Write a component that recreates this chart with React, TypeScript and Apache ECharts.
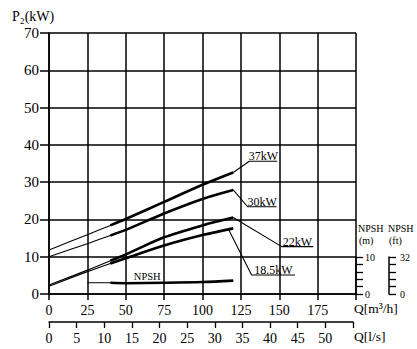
import React, { useEffect, useRef } from "react";
import * as echarts from "echarts";

// Flow rate Q [m³/h] sample positions
const flowQ = [0, 25, 40, 50, 75, 100, 120];
// Shaft power P2 [kW] for each motor size
const p37 = [11.8, 15.9, 18.4, 20.1, 24.7, 29.3, 32.6];
const p30 = [10.0, 13.5, 15.7, 17.2, 21.6, 25.5, 27.9];
const p22 = [2.4, 6.4, 8.9, 10.6, 15.2, 18.4, 20.5];
const p185 = [2.1, 6.0, 8.2, 9.6, 13.0, 15.8, 17.6];
// NPSH [m]
const npshQ = [25, 40, 50, 75, 100, 120];
const npshM = [3.0, 3.0, 2.9, 3.0, 3.2, 3.6];
const thickFromQ = 40;

const powerLabels = ["37kW", "30kW", "22kW", "18.5kW"];
// leader lines (data coords): curve end -> elbow -> end of underline
const leader37 = [[120, 32.6], [130.5, 35.6], [148.7, 35.6]];
const leader30 = [[120, 27.9], [129.4, 23.4], [148.3, 23.4]];
const leader22 = [[120, 20.5], [151.6, 12.7], [172.2, 12.7]];
const leader185 = [[117, 17.3], [132, 5.1], [160.3, 5.1]];
const npshLabelAt = [64, 4.7];

const qTicksMax = 200;
const lsTicksMax = 55;
const pMax = 70;

const FONT = "'Liberation Serif', 'Times New Roman', 'DejaVu Serif', serif";

export default function App() {
  const ref = useRef<HTMLDivElement>(null);
  useEffect(() => {
    document.body.style.margin = "0";
    const chart = echarts.init(ref.current!, null, { renderer: "svg" });
    const curves = [p37, p30, p22, p185];
    const leaders = [leader37, leader30, leader22, leader185];
    const series: any[] = [];
    curves.forEach((vals, i) => {
      const pts = flowQ.map((q, k) => [q, vals[k]]);
      series.push({
        type: "line", name: powerLabels[i] + "-thin", data: pts, smooth: 0.3,
        symbol: "none", lineStyle: { color: "#000", width: 1.1 }, z: 5,
      });
      series.push({
        type: "line", name: powerLabels[i], data: pts.filter((p) => p[0] >= thickFromQ), smooth: 0.3,
        symbol: "none", lineStyle: { color: "#000", width: 2.6 }, z: 6,
      });
    });
    const npshPts = npshQ.map((q, k) => [q, npshM[k]]);
    series.push({
      type: "line", name: "NPSH-thin", data: npshPts, smooth: 0.3, symbol: "none",
      lineStyle: { color: "#000", width: 1.1 }, z: 5,
    });
    series.push({
      type: "line", name: "NPSH", data: npshPts.filter((p) => p[0] >= thickFromQ), smooth: 0.3, symbol: "none",
      lineStyle: { color: "#000", width: 2.6 }, z: 6,
    });
    leaders.forEach((ld, i) => {
      series.push({
        type: "line", name: "leader-" + powerLabels[i], data: ld, symbol: "none",
        lineStyle: { color: "#000", width: 1.1 }, z: 7,
      });
    });

    const lbl = { color: "#000", fontFamily: FONT };
    const axLine = { show: true, onZero: false, lineStyle: { color: "#000", width: 1.5 } };

    const option: any = {
      animation: false,
      backgroundColor: "#fff",
      grid: [
        { left: 49, right: 61, top: 33, bottom: 55 },
        { left: 49, right: 64, top: 33, bottom: 55 },
        { left: 300, right: 61, top: 257, bottom: 55 },
        { left: 300, right: 28, top: 257, bottom: 55 },
      ],
      xAxis: [
        {
          gridIndex: 0, type: "value", min: 0, max: qTicksMax, interval: 25, position: "bottom",
          axisLine: axLine,
          axisTick: { show: true, length: 6, lineStyle: { color: "#000", width: 1.5 } },
          axisLabel: { ...lbl, fontSize: 14, margin: 9, formatter: (v: number) => (v >= qTicksMax ? "" : String(v)) },
          splitLine: { show: true, lineStyle: { color: "#000", width: 1.5 } },
        },
        {
          gridIndex: 1, type: "value", min: 0, max: lsTicksMax, interval: 5, position: "bottom", offset: 28,
          axisLine: axLine,
          axisTick: { show: true, length: 6, lineStyle: { color: "#000", width: 1.3 } },
          axisLabel: { ...lbl, fontSize: 14, margin: 9, formatter: (v: number) => (v >= lsTicksMax ? "" : String(v)) },
          splitLine: { show: false },
        },
        { gridIndex: 2, type: "value", min: 0, max: 1, show: false },
        { gridIndex: 3, type: "value", min: 0, max: 1, show: false },
      ],
      yAxis: [
        {
          gridIndex: 0, type: "value", min: 0, max: pMax, interval: 10,
          axisLine: axLine,
          axisTick: { show: true, length: 9, lineStyle: { color: "#000", width: 1.5 } },
          axisLabel: { ...lbl, fontSize: 15, margin: 10 },
          splitLine: { show: true, lineStyle: { color: "#000", width: 1.5 } },
        },
        { gridIndex: 1, type: "value", min: 0, max: 1, show: false },
        {
          gridIndex: 2, type: "value", min: 0, max: 10, interval: 2, position: "right",
          axisLine: axLine,
          axisTick: { show: true, length: 7, lineStyle: { color: "#000", width: 1.3 } },
          axisLabel: { ...lbl, fontSize: 10, margin: 9, formatter: (v: number) => (v === 0 || v === 10 ? String(v) : "") },
          splitLine: { show: false },
        },
        {
          gridIndex: 3, type: "value", min: 0, max: 32, interval: 6.4, position: "right",
          axisLine: axLine,
          axisTick: { show: true, length: 7, lineStyle: { color: "#000", width: 1.3 } },
          axisLabel: {
            ...lbl, fontSize: 10, margin: 11,
            formatter: (v: number) => (Math.abs(v) < 0.01 || Math.abs(v - 32) < 0.01 ? String(Math.round(v)) : ""),
          },
          splitLine: { show: false },
        },
      ],
      series,
    };
    chart.setOption(option);

    const toPx = (p: number[]) => chart.convertToPixel({ xAxisIndex: 0, yAxisIndex: 0 }, p) as number[];
    const graphics: any[] = [];
    leaders.forEach((ld, i) => {
      const a = toPx(ld[1]);
      const b = toPx(ld[2]);
      graphics.push({
        type: "text", x: (a[0] + b[0]) / 2, y: a[1] + 1,
        style: { text: powerLabels[i], fill: "#000", font: `12px ${FONT}`, textAlign: "center", textVerticalAlign: "bottom" },
      });
    });
    const np = toPx(npshLabelAt);
    graphics.push({
      type: "text", x: np[0], y: np[1],
      style: { text: "NPSH", fill: "#000", font: `10.5px ${FONT}`, textAlign: "center", textVerticalAlign: "middle" },
    });
    const fixedTexts = [
      { text: "P₂(kW)", x: 12, y: 16, size: 14 },
      { text: "Q[m³/h]", x: 354, y: 308, size: 13.5 },
      { text: "Q[l/s]", x: 354, y: 336, size: 13.5 },
      { text: "NPSH", x: 358, y: 228, size: 10 },
      { text: "(m)", x: 359, y: 240, size: 10 },
      { text: "NPSH", x: 388, y: 228, size: 10 },
      { text: "(ft)", x: 389, y: 240, size: 10 },
    ];
    fixedTexts.forEach((t) => {
      graphics.push({
        type: "text", x: t.x, y: t.y,
        style: { text: t.text, fill: "#000", font: `${t.size}px ${FONT}`, textAlign: "left", textVerticalAlign: "middle" },
      });
    });
    chart.setOption({ graphic: graphics });

    return () => chart.dispose();
  }, []);
  return <div ref={ref} style={{ position: "fixed", left: 0, top: 0, width: 417, height: 349 }} />;
}
